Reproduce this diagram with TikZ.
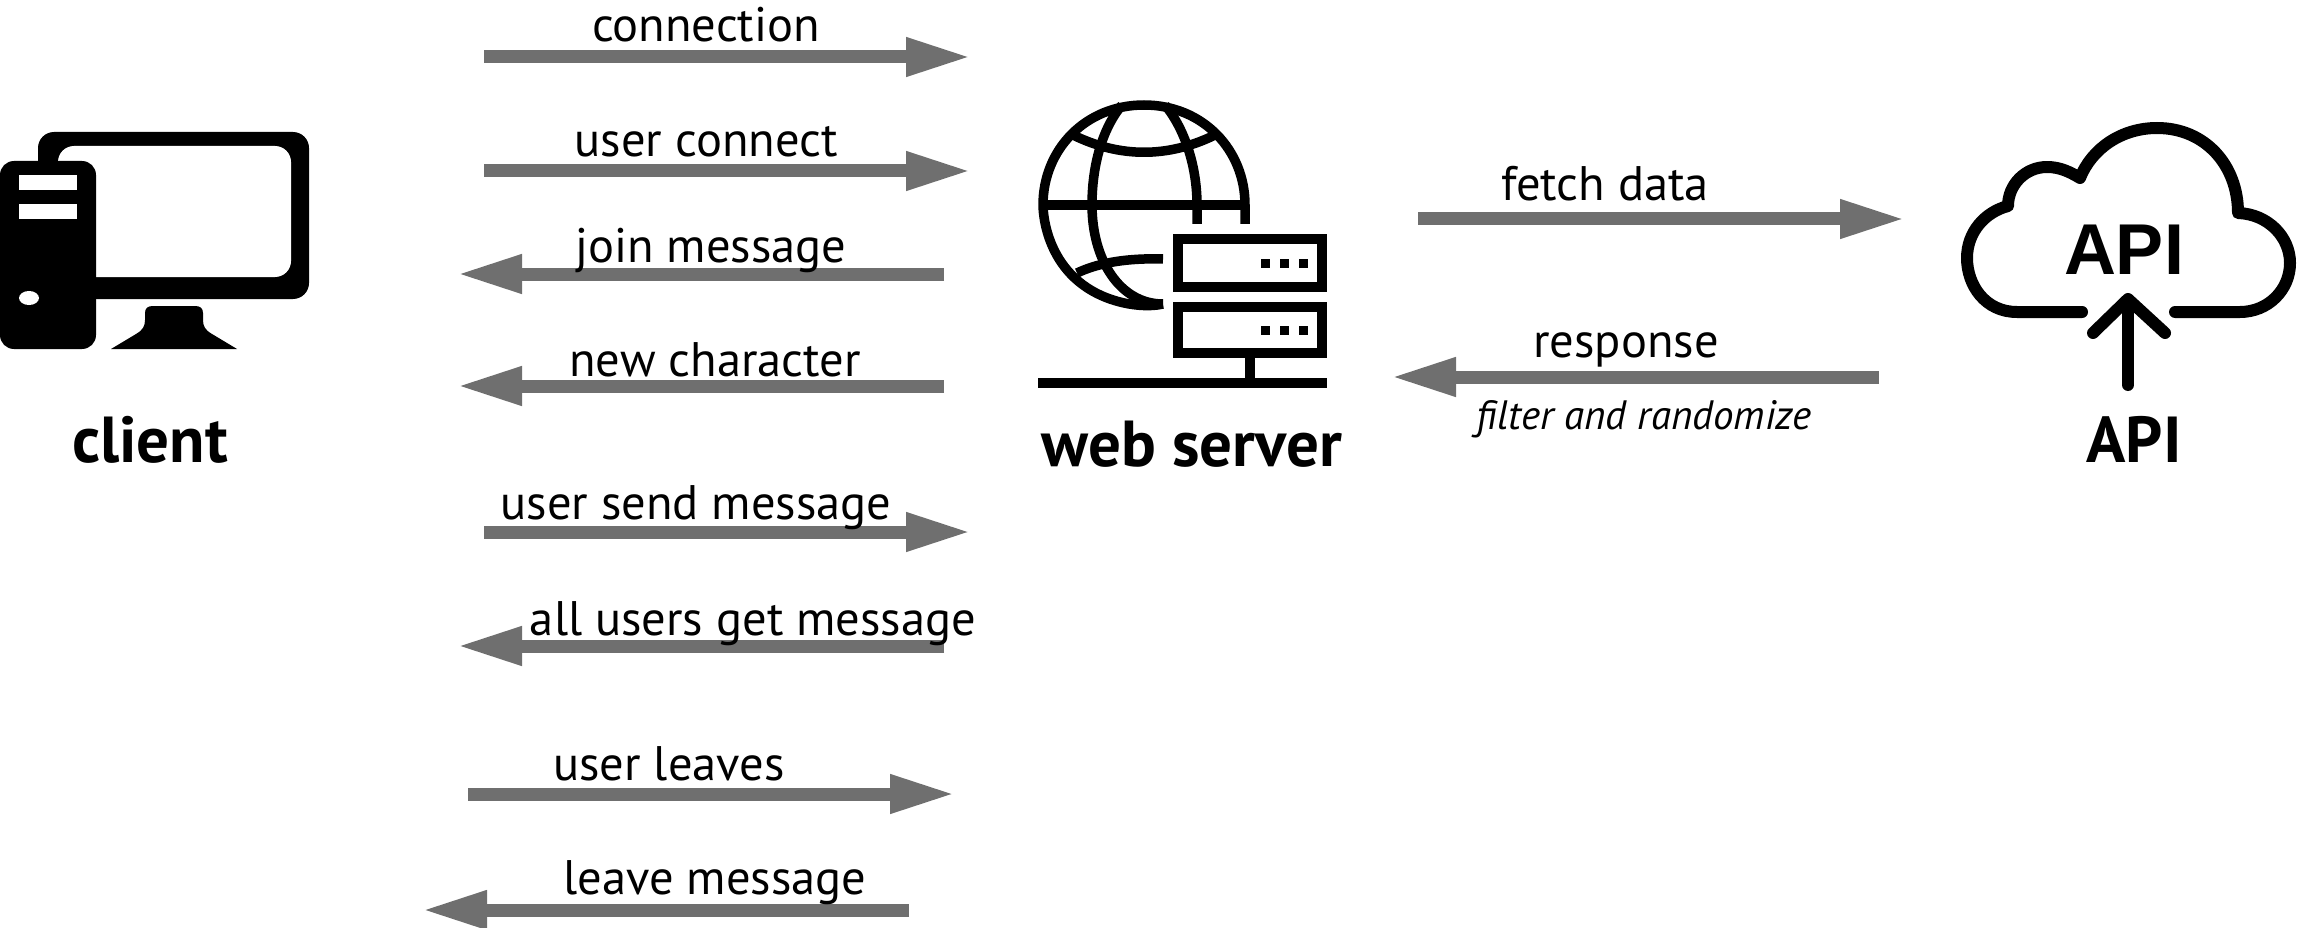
\documentclass[tikz,border=0pt]{standalone}
\usepackage{fontspec}
\setmainfont{PT Sans}
\newfontfamily\apifont{Liberation Sans}
\usetikzlibrary{arrows.meta}
\definecolor{flow}{HTML}{6F6F6F}
\tikzset{
  flowarrow/.style={draw=flow,line width=13pt,-{Triangle[length=65pt,width=36pt,fill=flow]}},
  msg/.style={anchor=base,inner sep=0pt,font=\fontsize{48.5}{58}\selectfont},
  note/.style={anchor=base,inner sep=0pt,font=\fontsize{41}{48}\selectfont\itshape},
  title/.style={anchor=base,inner sep=0pt,font=\fontsize{65}{76}\selectfont\bfseries},
  globeline/.style={draw=black,line width=9.5pt},
  cloudline/.style={draw=black,line width=12pt,line cap=round,line join=round},
}
\begin{document}
\begin{tikzpicture}[x=1pt,y=-1pt]
\useasboundingbox (0,0) rectangle (2302,928);
% ---- client icon
\fill[black,rounded corners=16pt] (38,132) rectangle (309,299);
\fill[white,rounded corners=16pt] (58,146) rectangle (291,277);
\fill[black,rounded corners=14pt] (0,161) rectangle (96,349);
\fill[white] (19,175) rectangle (77,190);
\fill[white] (19,204) rectangle (77,219);
\fill[white] (29,298) ellipse [x radius=10,y radius=7];
\fill[black] (111,349) -- (136,334) .. controls (143,330) and (145,326) .. (145,320)
  -- (145,313) .. controls (145,308) and (148,306) .. (153,306) -- (195,306)
  .. controls (200,306) and (203,308) .. (203,313) -- (203,320)
  .. controls (203,326) and (205,330) .. (212,334) -- (237,349) -- cycle;
% ---- server icon
\draw[globeline] (1163,304) .. controls (1150,307) and (1130,306) .. (1110,299)
  .. controls (1042,275) and (1043,205) .. (1043,205)
  .. controls (1043,150) and (1085,105) .. (1144,105)
  .. controls (1203,105) and (1245,150) .. (1245,205) -- (1245,224);
\draw[globeline] (1043,205) -- (1245,205);
\draw[globeline] (1163,304) .. controls (1120,304) and (1092,260) .. (1092,205)
  .. controls (1092,160) and (1105,125) .. (1122,105);
\draw[globeline] (1165,105) .. controls (1184,128) and (1197,165) .. (1197,205) -- (1197,224);
\draw[globeline] (1073,135) .. controls (1120,158) and (1168,158) .. (1215,135);
\draw[globeline] (1077,273) .. controls (1100,262) and (1130,258) .. (1163,259);
\draw[black,line width=10pt] (1178,239) rectangle (1322,287);
\draw[black,line width=10pt] (1178,307) rectangle (1322,353);
\foreach \dx in {1265,1284,1303}{
  \fill[black] (\dx-4.5,258.5) rectangle (\dx+4.5,267.5);
  \fill[black] (\dx-4.5,325.5) rectangle (\dx+4.5,334.5);
}
\draw[black,line width=10pt] (1250,358) -- (1250,383);
\draw[black,line width=10pt] (1038,383) -- (1327,383);
% ---- api icon
\draw[cloudline] (2082,312) -- (2017,312) .. controls (1985,312) and (1967,285) .. (1967,258)
  .. controls (1967,232) and (1985,212) .. (2008,206)
  .. controls (2008,185) and (2025,167) .. (2047,167)
  .. controls (2060,167) and (2070,172) .. (2080,178)
  .. controls (2092,148) and (2122,128) .. (2157,128)
  .. controls (2205,128) and (2238,165) .. (2238,213)
  .. controls (2268,214) and (2290,237) .. (2290,263)
  .. controls (2290,290) and (2268,312) .. (2240,312) -- (2175,312);
\draw[cloudline] (2128,385) -- (2128,300);
\draw[cloudline] (2093,333) -- (2128,299) -- (2165,333);
\node[anchor=base,inner sep=0pt,font=\apifont\fontsize{72}{80}\selectfont\bfseries] (apiinner) at (2124,274) {API};
% ---- titles
\node[title] (client) at (150,462) {client};
\node[title] (server) at (1192,466) {web server};
\node[title] (api) at (2134,462) {API};
% ---- message arrows
\coordinate (a1s) at (484,57);  \coordinate (a1e) at (971,57);
\coordinate (a2s) at (484,171); \coordinate (a2e) at (971,171);
\coordinate (a3s) at (944,274); \coordinate (a3e) at (457,274);
\coordinate (a4s) at (944,386); \coordinate (a4e) at (457,386);
\coordinate (a5s) at (484,532); \coordinate (a5e) at (971,532);
\coordinate (a6s) at (944,646); \coordinate (a6e) at (457,646);
\coordinate (a7s) at (468,794); \coordinate (a7e) at (955,794);
\coordinate (a8s) at (909,910); \coordinate (a8e) at (422,910);
\coordinate (a9s) at (1418,219); \coordinate (a9e) at (1905,219);
\coordinate (a10s) at (1879,377); \coordinate (a10e) at (1391,377);
\foreach \n in {1,...,10}{\draw[flowarrow] (a\n s) -- (a\n e);}
% ---- labels
\node[msg] (l1) at (706,42) {connection};
\node[msg] (l2) at (706,157) {user connect};
\node[msg] (l3) at (711,262) {join message};
\node[msg] (l4) at (715,376) {new character};
\node[msg] (l5) at (696,519) {user send message};
\node[msg] (l6) at (753,635) {all users get message};
\node[msg] (l7) at (669,780) {user leaves};
\node[msg] (l8) at (715,894) {leave message};
\node[msg] (l9) at (1605,201) {fetch data};
\node[msg] (l10) at (1626,357) {response};
\node[note] (l11) at (1644,429) {filter and randomize};
\end{tikzpicture}
\end{document}
